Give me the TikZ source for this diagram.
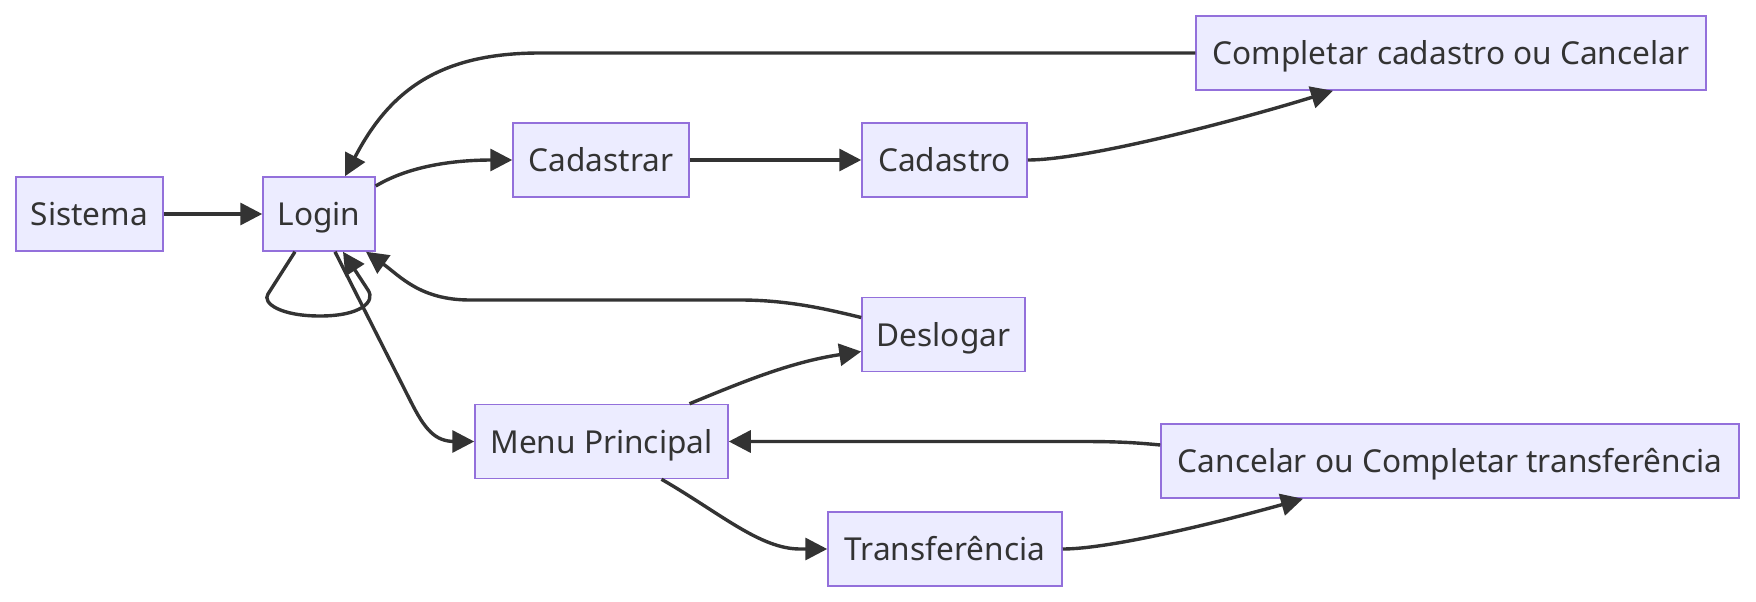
\documentclass[tikz,border=0pt]{standalone}
\usepackage{fontspec}
\setmainfont{Noto Sans}
\usetikzlibrary{arrows.meta}
\definecolor{nodefill}{HTML}{ECECFF}
\definecolor{nodeborder}{HTML}{9370DB}
\definecolor{edgecol}{HTML}{333333}
\tikzset{
  box/.style={rectangle, fill=nodefill, draw=nodeborder, line width=1.5pt, inner sep=0pt,
    minimum height=74pt, text height=23pt, text depth=0pt, text=edgecol, font=\fontsize{31.6}{37}\selectfont},
  edge/.style={draw=edgecol, line width=3.4pt, -{Triangle[length=22pt,width=22pt]}},
}
\begin{document}
\begin{tikzpicture}[x=1pt,y=-1pt]
\useasboundingbox (0,0) rectangle (1756,602);
\node[box, minimum width=147pt] (s) at (89.5,214) {Sistema};
\node[box, minimum width=112pt] (l) at (319,214) {Login};
\node[box, minimum width=176pt] (cdr) at (601,160) {Cadastrar};
\node[box, minimum width=165pt] (cdo) at (944.5,160) {Cadastro};
\node[box, minimum width=510pt] (cc) at (1451,53) {Completar cadastro ou Cancelar};
\node[box, minimum width=163pt] (d) at (943.5,334.5) {Deslogar};
\node[box, minimum width=253pt] (m) at (601.5,441.5) {Menu Principal};
\node[box, minimum width=578pt] (ct) at (1450,461) {Cancelar ou Completar transferência};
\node[box, minimum width=234pt] (t) at (945,549) {Transferência};

\draw[edge] (s.east) -- (l.west);
\draw[edge] ([yshift=28pt]l.east) .. controls +(30,-18) and +(-45,0) .. ([xshift=-20pt]cdr.west) -- (cdr.west);
\draw[edge] (cdr.east) -- (cdo.west);
\draw[edge] (cdo.east) .. controls +(60,0) and +(-90,28) .. ([xshift=-118pt]cc.south);
\draw[edge] (cc.west) -- (540,53) .. controls (440,53) and (390,90) .. ([xshift=26pt]l.north);
\draw[edge] ([xshift=-24pt]l.south) -- (268,294) .. controls (262,303) and (280,316) .. (320,316)
  .. controls (360,316) and (376,302) .. (368,290) -- ([xshift=24pt]l.south);
\draw[edge] ([xshift=16pt]l.south) -- (410,400) .. controls (425,430) and (435,441.5) .. (455,441.5) -- (m.west);
\draw[edge] ([yshift=17pt]d.west) .. controls (830,310) and (790,300) .. (740,300) -- (470,300)
  .. controls (420,300) and (400,276) .. ([xshift=47pt]l.south);
\draw[edge] ([xshift=88pt]m.north) .. controls (740,383) and (790,362) .. ([yshift=-17pt]d.west);
\draw[edge] ([yshift=16pt]ct.west) .. controls (1130,442) and (1110,441.5) .. (1080,441.5) -- (m.east);
\draw[edge] ([xshift=60pt]m.south) .. controls (720,513) and (760,549) .. (800,549) -- (t.west);
\draw[edge] (t.east) .. controls (1110,549) and (1220,522) .. ([xshift=-147pt]ct.south);
\end{tikzpicture}
\end{document}
